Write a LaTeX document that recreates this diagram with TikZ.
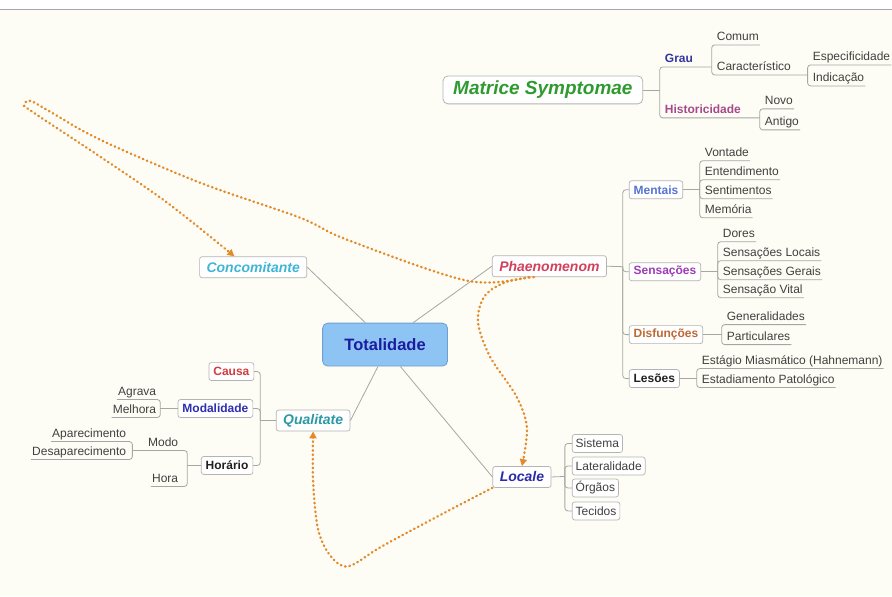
\documentclass[tikz,border=0pt]{standalone}
\usepackage{fontspec}
\setmainfont{Liberation Sans}
\usetikzlibrary{arrows.meta}
\definecolor{bgc}{HTML}{FDFDF5}
\definecolor{lineg}{HTML}{A6A6A6}
\definecolor{boxg}{HTML}{B4B4B4}
\definecolor{leafc}{HTML}{404040}
\definecolor{relc}{HTML}{E38B2C}
\definecolor{matc}{HTML}{2F9A30}
\definecolor{grauc}{HTML}{3434A4}
\definecolor{histc}{HTML}{A8488C}
\definecolor{totf}{HTML}{8EC4F3}
\definecolor{totb}{HTML}{6E9FD0}
\definecolor{totc}{HTML}{1C1CA0}
\definecolor{concc}{HTML}{3FB6D6}
\definecolor{phaec}{HTML}{D2415C}
\definecolor{menc}{HTML}{5674D0}
\definecolor{senc}{HTML}{9C3CB4}
\definecolor{disc}{HTML}{BE6834}
\definecolor{lesc}{HTML}{202020}
\definecolor{causc}{HTML}{D23C3C}
\definecolor{modc}{HTML}{2E2EB0}
\definecolor{horc}{HTML}{202020}
\definecolor{qualc}{HTML}{2A98A6}
\definecolor{locc}{HTML}{2B2BA6}
\begin{document}
\begin{tikzpicture}[x=1pt,y=-1pt,
  conn/.style={draw=lineg, line width=0.8pt, rounded corners=3pt},
  box/.style={draw=boxg, fill=white, rounded corners=2.5pt, line width=0.7pt, inner xsep=4.5pt, inner ysep=0pt, minimum height=18pt, font=\fontsize{12}{14}\selectfont\bfseries},
  mainbox/.style={box, inner xsep=7pt, minimum height=21pt, font=\fontsize{14}{16}\selectfont\bfseries\itshape},
  leafbox/.style={box, inner xsep=3.5pt, font=\fontsize{12}{14}\selectfont, text=leafc},
  ul/.style={inner xsep=1pt, inner ysep=1.5pt, text height=9pt, text depth=2.5pt, font=\fontsize{12}{14}\selectfont, text=leafc},
  ulb/.style={ul, font=\fontsize{12}{14}\selectfont\bfseries},
  rel/.style={draw=relc, line width=2.4pt, line cap=round, dash pattern=on 0.6pt off 3.8pt, -{Triangle[length=7pt,width=7pt]}}
]
\fill[bgc] (0,0) rectangle (892,597);
\fill[white] (0,0) rectangle (892,9);
\draw[lineg, line width=1pt] (0,9.5) -- (892,9.5);
\useasboundingbox (0,0) rectangle (892,597);

% central
\node[draw=totb, fill=totf, rounded corners=5pt, line width=0.8pt, minimum width=125pt, minimum height=43pt, font=\fontsize{16.5}{18}\selectfont\bfseries, text=totc] (tot) at (385,345) {Totalidade};
\node[mainbox, text=concc] (conc) at (253,267.5) {Concomitante};
\node[mainbox, text=phaec] (phae) at (549.5,266.5) {Phaenomenom};
\node[mainbox, text=qualc] (qual) at (313,421) {Qualitate};
\node[mainbox, text=locc] (loc) at (522,477.5) {Locale};
\draw[conn] (conc.east) -- (tot.132);
\draw[conn] (phae.west) -- (tot.38);
\draw[conn] (qual.east) -- (tot.252);
\draw[conn] (loc.west) -- (tot.305);

% Matrice Symptomae
\node[draw=boxg, fill=white, rounded corners=5pt, line width=0.8pt, minimum width=200pt, minimum height=28pt, font=\fontsize{19}{22}\selectfont\bfseries\itshape, text=matc] (mat) at (543,90) {Matrice Symptomae};
\coordinate (jM) at (660,90);
\coordinate (jG) at (712,67);
\coordinate (jH) at (760,118);
\coordinate (jC) at (808,75);
\node[ulb, text=grauc, anchor=south west] (grau) at (664,67) {Grau};
\node[ulb, text=histc, anchor=south west] (hist) at (664,118) {Historicidade};
\node[ul, anchor=south west] (comum) at (716,45) {Comum};
\node[ul, anchor=south west] (car) at (716,75) {Característico};
\node[ul, anchor=south west] (esp) at (812,65) {Especificidade};
\node[ul, anchor=south west] (ind) at (812,86) {Indicação};
\node[ul, anchor=south west] (novo) at (764,109) {Novo};
\node[ul, anchor=south west] (antigo) at (764,130) {Antigo};
\draw[conn] (mat.east) -- (jM);
\draw[conn] (jM) |- (jG);
\draw[conn] (jM) |- (jH);
\draw[conn] (jG) |- (comum.south east);
\draw[conn] (jG) |- (jC);
\draw[conn] (jC) |- (esp.south east);
\draw[conn] (jC) |- (ind.south east);
\draw[conn] (jH) |- (novo.south east);
\draw[conn] (jH) |- (antigo.south east);

% Phaenomenom branch
\coordinate (jP) at (623,267);
\node[box, text=menc, anchor=west] (ment) at (629,190) {Mentais};
\node[box, text=senc, anchor=west] (sens) at (629,272) {Sensações};
\node[box, text=disc, anchor=west] (disf) at (629,335) {Disfunções};
\node[box, text=lesc, anchor=west] (les) at (629,379) {Lesões};
\draw[conn] (phae.east) -- (jP);
\foreach \c in {ment,sens,disf,les} \draw[conn] (jP) |- (\c.west);

\coordinate (jMe) at (700,190);
\node[ul, anchor=south west] (vont) at (704,161) {Vontade};
\node[ul, anchor=south west] (ente) at (704,180) {Entendimento};
\node[ul, anchor=south west] (sent) at (704,199) {Sentimentos};
\node[ul, anchor=south west] (memo) at (704,218) {Memória};
\draw[conn] (ment.east) -- (jMe);
\foreach \c in {vont,ente,sent,memo} \draw[conn] (jMe) |- (\c.south east);

\coordinate (jS) at (718,272);
\node[ul, anchor=south west] (dores) at (722,242) {Dores};
\node[ul, anchor=south west] (sloc) at (722,261) {Sensações Locais};
\node[ul, anchor=south west] (sger) at (722,280) {Sensações Gerais};
\node[ul, anchor=south west] (svit) at (722,298) {Sensação Vital};
\draw[conn] (sens.east) -- (jS);
\foreach \c in {dores,sloc,sger,svit} \draw[conn] (jS) |- (\c.south east);

\coordinate (jD) at (722,335);
\node[ul, anchor=south west] (gene) at (726,325) {Generalidades};
\node[ul, anchor=south west] (part) at (726,345) {Particulares};
\draw[conn] (disf.east) -- (jD);
\foreach \c in {gene,part} \draw[conn] (jD) |- (\c.south east);

\coordinate (jLe) at (697,379);
\node[ul, anchor=south west] (estm) at (701,369) {Estágio Miasmático (Hahnemann)};
\node[ul, anchor=south west] (estp) at (701,388) {Estadiamento Patológico};
\draw[conn] (les.east) -- (jLe);
\foreach \c in {estm,estp} \draw[conn] (jLe) |- (\c.south east);

% Qualitate branch
\coordinate (jQ) at (260,421);
\node[box, text=causc, anchor=east] (causa) at (254,372) {Causa};
\node[box, text=modc, anchor=east] (moda) at (253,409) {Modalidade};
\node[box, text=horc, anchor=east] (hor) at (253,466) {Horário};
\draw[conn] (qual.west) -- (jQ);
\foreach \c in {causa,moda,hor} \draw[conn] (jQ) |- (\c.east);

\coordinate (jMo) at (160,409);
\node[ul, anchor=south east] (agr) at (157,400) {Agrava};
\node[ul, anchor=south east] (mel) at (157,418) {Melhora};
\draw[conn] (moda.west) -- (jMo);
\foreach \c in {agr,mel} \draw[conn] (jMo) |- (\c.south west);

\coordinate (jHo) at (187,466);
\coordinate (jMd) at (132,451);
\node[ul, anchor=south east] (modo) at (179,451) {Modo};
\node[ul, anchor=south east] (hora) at (179,487) {Hora};
\draw[conn] (hor.west) -- (jHo);
\draw[conn] (jHo) |- (jMd);
\draw[conn] (jHo) |- (hora.south west);
\node[ul, anchor=south east] (apar) at (127,442) {Aparecimento};
\node[ul, anchor=south east] (desa) at (127,460) {Desaparecimento};
\foreach \c in {apar,desa} \draw[conn] (jMd) |- (\c.south west);

% Locale branch
\coordinate (jLo) at (565,477);
\node[leafbox, anchor=west] (sis) at (572,444) {Sistema};
\node[leafbox, anchor=west] (lat) at (572,466.5) {Lateralidade};
\node[leafbox, anchor=west] (org) at (572,488.5) {Órgãos};
\node[leafbox, anchor=west] (tec) at (572,511.5) {Tecidos};
\draw[conn] (loc.east) -- (jLo);
\foreach \c in {sis,lat,org,tec} \draw[conn] (jLo) |- (\c.west);

% relationships
\draw[rel] plot[smooth, tension=0.55] coordinates {(phae.208) (467,281) (347,240) (300,218) (200,183) (100,140) (50,112) (30,101) (24,105) (32,112) (100,157) (167,203) (conc.150)};
\draw[rel] plot[smooth, tension=0.55] coordinates {(phae.215) (507,282) (485,296) (478,322) (490,357) (516,396) (527,428) (loc.north)};
\draw[rel] plot[smooth, tension=0.55] coordinates {(loc.south west) (430,521) (380,548) (348,567) (330,556) (318,530) (313,483) (qual.south)};
\end{tikzpicture}
\end{document}
